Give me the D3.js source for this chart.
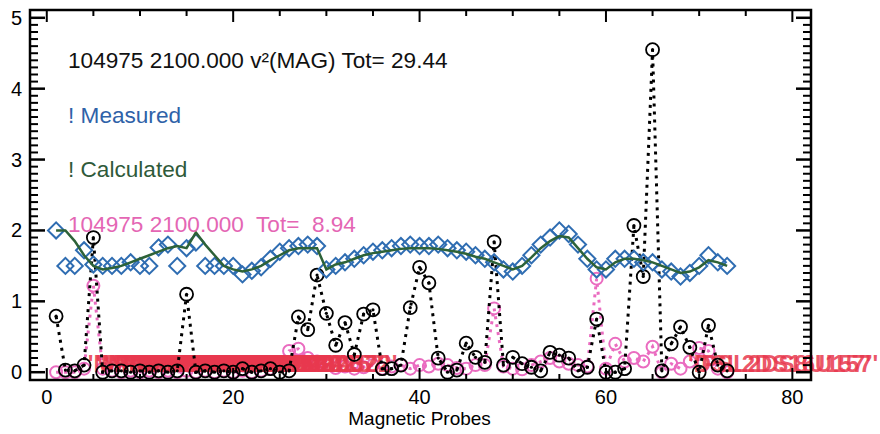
<!DOCTYPE html>
<html>
<head>
<meta charset="utf-8">
<script src="https://cdn.jsdelivr.net/npm/d3@7"></script>
<style>
  body { margin: 0; background: #fff; }
  svg { display: block; font-family: "Liberation Sans", Arial, Helvetica, sans-serif; }
</style>
</head>
<body>
<svg id="chart"></svg>
<script>
// probe numbers 1..73
const probes = [1,2,3,4,5,6,7,8,9,10,11,12,13,14,15,16,17,18,19,20,21,22,23,24,25,26,27,28,29,30,31,32,33,34,35,36,37,38,39,40,41,42,43,44,45,46,47,48,49,50,51,52,53,54,55,56,57,58,59,60,61,62,63,64,65,66,67,68,69,70,71,72,73];

// measured signal (blue diamonds)
const measured = [2.0,1.5,1.5,1.72,1.52,1.5,1.5,1.5,1.55,1.5,1.5,1.76,1.8,1.5,1.75,1.83,1.5,1.5,1.5,1.5,1.38,1.43,1.48,1.6,1.7,1.75,1.78,1.8,1.78,1.45,1.5,1.55,1.6,1.65,1.7,1.72,1.75,1.78,1.8,1.78,1.78,1.8,1.75,1.72,1.7,1.65,1.6,1.55,1.45,1.42,1.5,1.65,1.8,1.9,2.0,1.95,1.8,1.6,1.45,1.45,1.6,1.6,1.6,1.55,1.55,1.45,1.42,1.35,1.4,1.5,1.65,1.55,1.5];

// calculated signal (green line)
const calculated = [2.0,2.0,1.85,1.65,1.5,1.45,1.47,1.5,1.55,1.6,1.65,1.7,1.75,1.78,1.75,1.97,1.8,1.65,1.5,1.45,1.42,1.45,1.5,1.58,1.65,1.72,1.75,1.75,1.75,1.45,1.52,1.55,1.6,1.65,1.68,1.7,1.72,1.74,1.75,1.75,1.75,1.74,1.72,1.7,1.67,1.63,1.6,1.55,1.5,1.45,1.5,1.62,1.75,1.85,1.92,1.9,1.75,1.6,1.48,1.45,1.55,1.6,1.6,1.58,1.55,1.5,1.45,1.4,1.42,1.48,1.58,1.55,1.5];

// v^2 contribution, Tot= 29.44 (black circles)
const chiMag = [0.79,0.03,0.02,0.1,1.9,0.0,0.02,0.02,0.0,0.02,0.0,0.02,0.0,0.02,1.1,0.0,0.02,0.0,0.02,0.0,0.05,0.0,0.02,0.05,0.0,0.02,0.78,0.6,1.37,0.83,0.38,0.7,0.25,0.82,0.88,0.05,0.05,0.1,0.91,1.48,1.26,0.2,0.0,0.03,0.41,0.21,0.14,1.84,0.1,0.21,0.12,0.07,0.02,0.28,0.24,0.2,0.02,0.07,0.75,0.0,0.0,0.05,2.07,1.35,4.55,0.02,0.4,0.64,0.35,0.0,0.66,0.1,0.02];

// second case, Tot= 8.94 (pink circles)
const chiCase2 = [0.0,0.0,0.0,0.05,1.22,0.05,0.02,0.0,0.02,0.0,0.02,0.0,0.02,0.0,0.02,0.0,0.02,0.0,0.02,0.0,0.02,0.0,0.02,0.05,0.1,0.3,0.33,0.2,0.15,0.1,0.06,0.08,0.05,0.07,0.1,0.05,0.08,0.1,0.05,0.1,0.08,0.12,0.1,0.06,0.05,0.1,0.1,0.9,0.08,0.05,0.04,0.1,0.15,0.2,0.15,0.12,0.1,0.08,1.32,0.05,0.4,0.15,0.2,0.15,0.36,0.0,0.12,0.05,0.15,0.34,0.3,0.05,0.0];

// probe name strings printed along the bottom (they pile up on each other)
const nameProbes = [4.4,5.2,6,6.8,7.6,8.4,9.2,10,10.8,11.6,12.4,13.2,14,14.8,15.6,16.4,17.2,18,18.8,19.6,20.4,21.2,22,22.8,68.8,69.6];
const names = ["'MPI11M067'","'MPI11M112'","'MPI11M157'","'MPI11M202'","'MPI11M247'","'MPI11M292'","'MPI11M322'","'MPI1A067'","'MPI1A112'","'MPI1A157'","'MPI1A202'","'MPI1A247'","'MPI1A292'","'MPI1A322'","'MPI2A067'","'MPI2A112'","'MPI2A157'","'MPI2A202'","'MPI2A247'","'MPI2A292'","'MPI2A322'","'MPI79A067'","'MPI79A157'","'MPI79A322'","'DSL2DS16U157'","'PSL2DS8U157'"];

const yTicks = [0,1,2,3,4,5];
const xTicks = [0,20,40,60,80];

const titleLines = [
  {text: "104975 2100.000 v\u00B2(MAG) Tot= 29.44", color: "#111111"},
  {text: "! Measured", color: "#2f62a8"},
  {text: "! Calculated", color: "#2f5a3a"},
  {text: "104975 2100.000  Tot=  8.94", color: "#e466b4"}
];

const W = 880, H = 434;
const m = {left: 30, right: 69, top: 10, bottom: 54};

const svg = d3.select('#chart').attr('width', W).attr('height', H);

const x = d3.scaleLinear().domain([-1.8, 82]).range([m.left, W - m.right]);
const y = d3.scaleLinear().domain([-0.11, 5.11]).range([H - m.bottom, m.top]);

const rows = probes.map((p, i) => ({p, meas: measured[i], calc: calculated[i], a: chiMag[i], b: chiCase2[i]}));

// dotted lines first
const lineA = d3.line().x(d => x(d.p)).y(d => y(d.a));
const lineB = d3.line().x(d => x(d.p)).y(d => y(d.b));

svg.append('path').datum(rows)
  .attr('d', lineB)
  .attr('fill', 'none')
  .attr('stroke', '#ea6cc0')
  .attr('stroke-width', 3)
  .attr('stroke-dasharray', '3,5');

svg.append('g').selectAll('circle')
  .data(rows)
  .join('circle')
    .attr('cx', d => x(d.p))
    .attr('cy', d => y(d.b))
    .attr('r', 6)
    .attr('fill', 'none')
    .attr('stroke', '#ea6cc0')
    .attr('stroke-width', 2);

// red probe names
svg.append('g').selectAll('text')
  .data(nameProbes.map((p, i) => ({p, t: names[i]})))
  .join('text')
    .attr('x', d => x(d.p))
    .attr('y', y(0))
    .attr('font-size', 24)
    .attr('font-weight', 'bold')
    .attr('fill', '#e8384e')
    .attr('fill-opacity', 0.85)
    .text(d => d.t);

svg.append('path').datum(rows)
  .attr('d', lineA)
  .attr('fill', 'none')
  .attr('stroke', '#000')
  .attr('stroke-width', 3)
  .attr('stroke-dasharray', '3,5');

const dots = svg.append('g').selectAll('g')
  .data(rows)
  .join('g')
    .attr('transform', d => `translate(${x(d.p)},${y(d.a)})`);
dots.append('circle').attr('r', 6.5).attr('fill', 'none').attr('stroke', '#000').attr('stroke-width', 1.8);
dots.append('circle').attr('r', 1.6).attr('fill', '#000');

// measured diamonds
svg.append('g').selectAll('path')
  .data(rows)
  .join('path')
    .attr('d', d3.symbol().type(d3.symbolSquare).size(130))
    .attr('transform', d => `translate(${x(d.p)},${y(d.meas)}) rotate(45)`)
    .attr('fill', 'none')
    .attr('stroke', '#2f6db2')
    .attr('stroke-width', 2);

// calculated line
svg.append('path').datum(rows)
  .attr('d', d3.line().x(d => x(d.p)).y(d => y(d.calc)))
  .attr('fill', 'none')
  .attr('stroke', '#2d6238')
  .attr('stroke-width', 2.5);

// frame + ticks
const plotW = W - m.left - m.right, plotH = H - m.top - m.bottom;
const ax = svg.append('g').attr('stroke', '#000');

ax.append('rect')
  .attr('x', m.left).attr('y', m.top)
  .attr('width', plotW).attr('height', plotH)
  .attr('fill', 'none').attr('stroke-width', 2.5);

const yMinor = d3.range(0, 51).map(i => i / 10);
[m.left, W - m.right].forEach((x0, k) => {
  const dir = k === 0 ? 1 : -1;
  ax.append('g').selectAll('line')
    .data(yMinor)
    .join('line')
      .attr('x1', x0).attr('x2', d => x0 + dir * (Number.isInteger(d) ? 15 : 8))
      .attr('y1', d => y(d)).attr('y2', d => y(d))
      .attr('stroke-width', d => Number.isInteger(d) ? 2.5 : 2);
});

const xMinor = d3.range(0, 17).map(i => i * 5);
[m.top, H - m.bottom].forEach((y0, k) => {
  const dir = k === 0 ? 1 : -1;
  ax.append('g').selectAll('line')
    .data(xMinor)
    .join('line')
      .attr('x1', d => x(d)).attr('x2', d => x(d))
      .attr('y1', y0).attr('y2', d => y0 + dir * (d % 20 === 0 ? 12 : 6))
      .attr('stroke-width', 2);
});

// tick labels
svg.append('g').selectAll('text')
  .data(yTicks)
  .join('text')
    .attr('x', 22)
    .attr('y', d => y(d) + 7)
    .attr('text-anchor', 'end')
    .attr('font-size', 20)
    .text(d => d);

svg.append('g').selectAll('text')
  .data(xTicks)
  .join('text')
    .attr('x', d => x(d))
    .attr('y', 404)
    .attr('text-anchor', 'middle')
    .attr('font-size', 20)
    .text(d => d);

svg.append('text')
  .attr('x', x(40))
  .attr('y', 425)
  .attr('text-anchor', 'middle')
  .attr('font-size', 19)
  .text('Magnetic Probes');

// annotation block in upper left
svg.append('g').selectAll('text')
  .data(titleLines)
  .join('text')
    .attr('x', 68)
    .attr('y', (d, i) => 68 + i * 54.5)
    .attr('font-size', 22.6)
    .attr('fill', d => d.color)
    .style('white-space', 'pre')
    .text(d => d.text);
</script>
</body>
</html>
